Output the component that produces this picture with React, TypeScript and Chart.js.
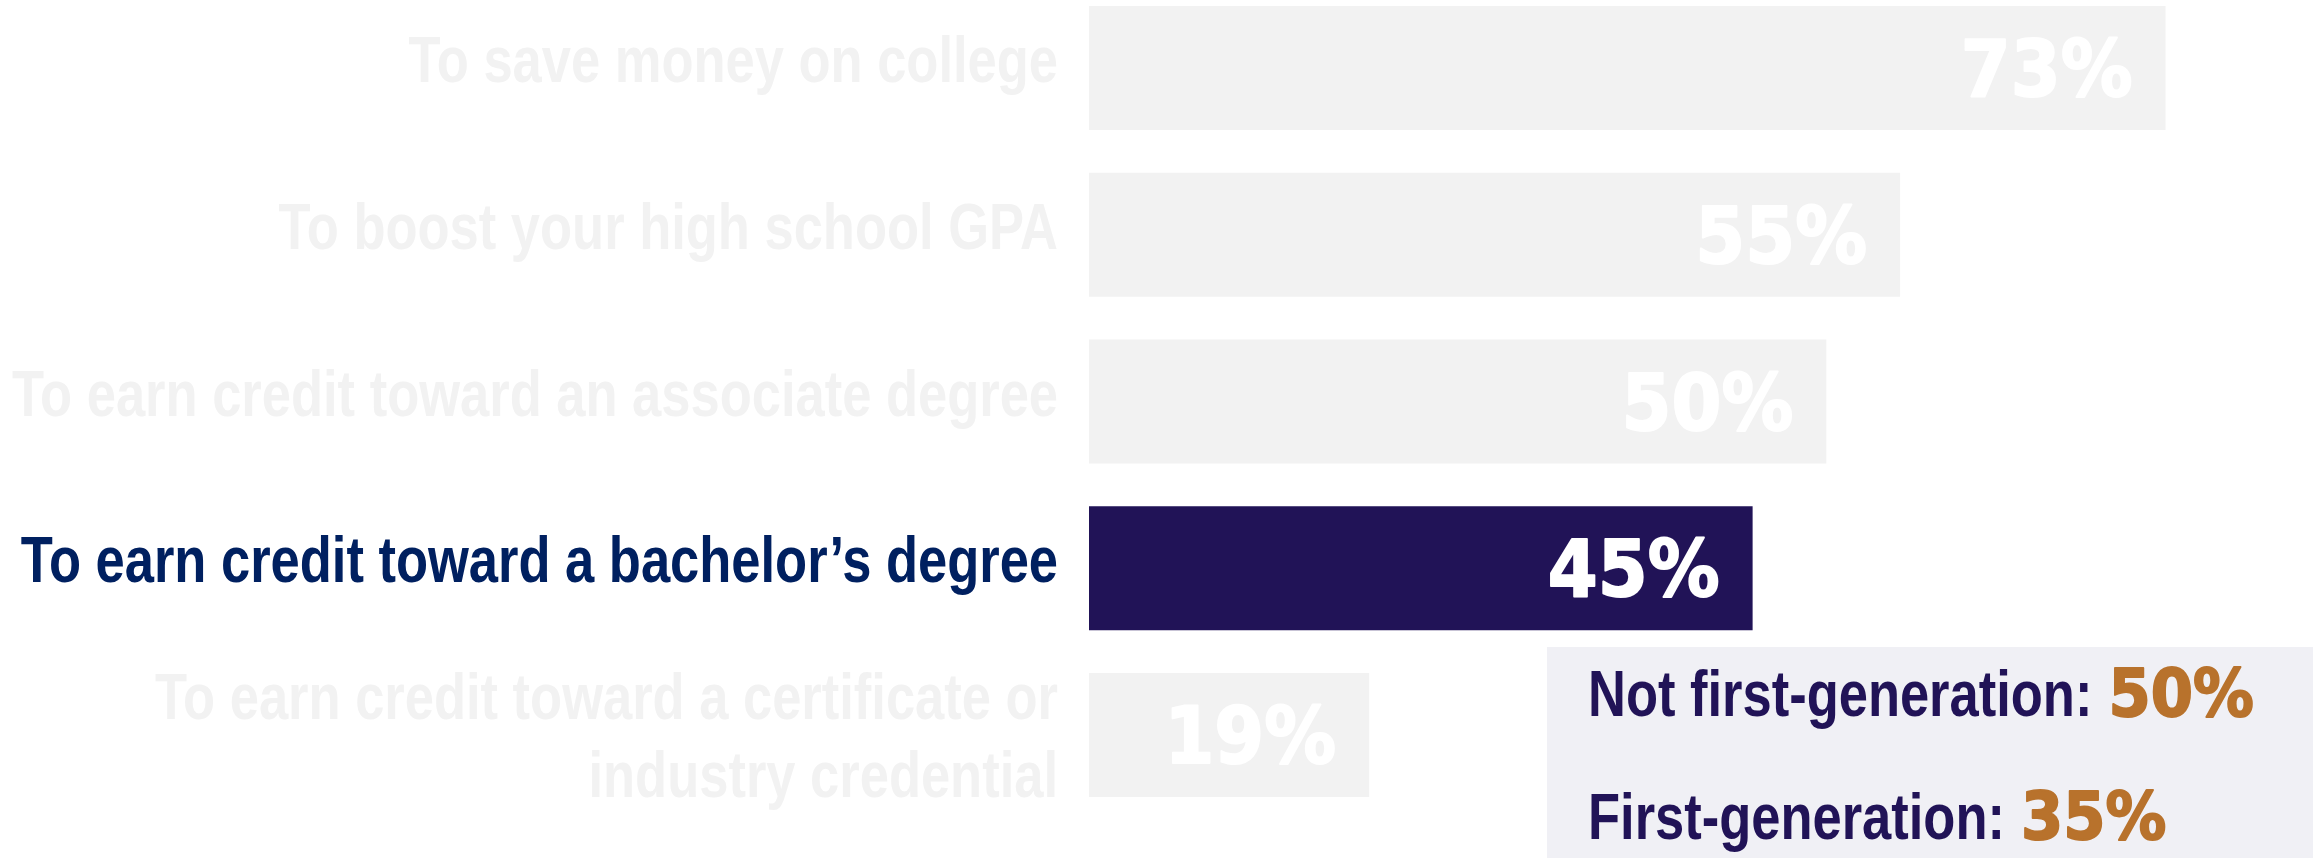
import React, { useEffect, useRef } from "react";
import { Chart, registerables } from "chart.js";

Chart.register(...registerables);

// ---- data ----
const categories: (string | string[])[] = [
  "To save money on college",
  "To boost your high school GPA",
  "To earn credit toward an associate degree",
  "To earn credit toward a bachelor\u2019s degree",
  ["To earn credit toward a certificate or", "industry credential"],
];
const values: number[] = [73, 55, 50, 45, 19];
const highlightIndex = 3;
const subgroupLabels: string[] = ["Not first-generation:", "First-generation:"];
const subgroupValues: number[] = [50, 35];

// ---- styles ----
const GRAY = "#f2f2f2";
const PURPLE = "#211357";
const NAVY = "#002060";
const ORANGE = "#b8722c";
const BOX_BG = "#f0f0f5";
const X_MAX = 83;

const W = 2313;
const H = 858;

function pickNarrow(ctx: CanvasRenderingContext2D, size: number) {
  const narrow = `bold ${size}px "Liberation Sans Narrow", "Liberation Sans"`;
  const wide = `bold ${size}px "Liberation Sans"`;
  ctx.save();
  ctx.font = narrow;
  const w1 = ctx.measureText("To earn credit toward").width;
  ctx.font = wide;
  const w2 = ctx.measureText("To earn credit toward").width;
  ctx.restore();
  if (w1 < w2 * 0.95) return { font: narrow, sx: 1 };
  return { font: wide, sx: 0.82 };
}

function drawText(
  ctx: CanvasRenderingContext2D,
  text: string,
  x: number,
  y: number,
  font: string,
  sx: number,
  align: CanvasTextAlign,
  color: string,
  stroke = 0
) {
  ctx.save();
  ctx.font = font;
  ctx.textAlign = align;
  ctx.textBaseline = "alphabetic";
  ctx.fillStyle = color;
  ctx.translate(x, y);
  ctx.scale(sx, 1);
  ctx.fillText(text, 0, 0);
  if (stroke > 0) {
    ctx.strokeStyle = color;
    ctx.lineWidth = stroke;
    ctx.lineJoin = "round";
    ctx.strokeText(text, 0, 0);
  }
  const w = ctx.measureText(text).width * sx;
  ctx.restore();
  return w;
}

const textPlugin = {
  id: "customText",
  beforeDatasetsDraw(chart: any) {
    const ctx: CanvasRenderingContext2D = chart.ctx;
    // subgroup box
    const boxLeft = 1547;
    const boxTop = 647;
    ctx.save();
    ctx.fillStyle = BOX_BG;
    ctx.fillRect(boxLeft, boxTop, W - boxLeft, H - boxTop);
    ctx.restore();
  },
  afterDatasetsDraw(chart: any) {
    const ctx: CanvasRenderingContext2D = chart.ctx;
    const xs = chart.scales.x;
    const ys = chart.scales.y;
    const nf = pickNarrow(ctx, 64);
    const valueFont = `bold 78px "DejaVu Sans"`;
    const valueSx = 0.92;

    // category labels
    categories.forEach((lab, i) => {
      const lines = Array.isArray(lab) ? lab : [lab];
      const cy = ys.getPixelForValue(i);
      const lh = 78;
      const color = i === highlightIndex ? NAVY : GRAY;
      const off = 14 + (lines.length - 1) * 9;
      lines.forEach((ln, j) => {
        const y = cy + off + (j - (lines.length - 1) / 2) * lh;
        drawText(ctx, ln, chart.chartArea.left - 31, y, nf.font, nf.sx, "right", color);
      });
    });

    // value labels inside bars
    values.forEach((v, i) => {
      const cy = ys.getPixelForValue(i);
      const x = xs.getPixelForValue(v) - 33;
      drawText(ctx, `${v}%`, x, cy + 28, valueFont, valueSx, "right", "#ffffff", 2);
    });

    // subgroup text
    const tx = 1588;
    const baselines = [716, 839];
    subgroupLabels.forEach((lab, i) => {
      const w = drawText(ctx, lab, tx, baselines[i], nf.font, nf.sx, "left", PURPLE);
      drawText(
        ctx,
        `${subgroupValues[i]}%`,
        tx + w + 16,
        baselines[i],
        `bold 66px "DejaVu Sans"`,
        0.92,
        "left",
        ORANGE,
        2
      );
    });
  },
};

export default function App() {
  const ref = useRef<HTMLCanvasElement | null>(null);

  useEffect(() => {
    if (!ref.current) return;
    const chart = new Chart(ref.current, {
      type: "bar",
      data: {
        labels: categories as any,
        datasets: [
          {
            data: values,
            backgroundColor: values.map((_, i) => (i === highlightIndex ? PURPLE : GRAY)),
            borderWidth: 0,
            categoryPercentage: 1,
            barPercentage: 0.745,
            clip: false as any,
          },
        ],
      },
      options: {
        indexAxis: "y",
        responsive: false,
        maintainAspectRatio: false,
        animation: false,
        devicePixelRatio: 1,
        layout: { padding: { left: 1089, right: 0, top: 68, bottom: 123 } },
        plugins: { legend: { display: false }, tooltip: { enabled: false } },
        scales: {
          x: { type: "linear", min: 0, max: X_MAX, display: false },
          y: { type: "category", offset: false, display: false },
        },
      },
      plugins: [textPlugin],
    });
    return () => chart.destroy();
  }, []);

  return (
    <div style={{ position: "fixed", left: 0, top: 0, width: W, height: H, background: "#ffffff" }}>
      <canvas ref={ref} width={W} height={H} style={{ display: "block", width: W, height: H }} />
    </div>
  );
}
